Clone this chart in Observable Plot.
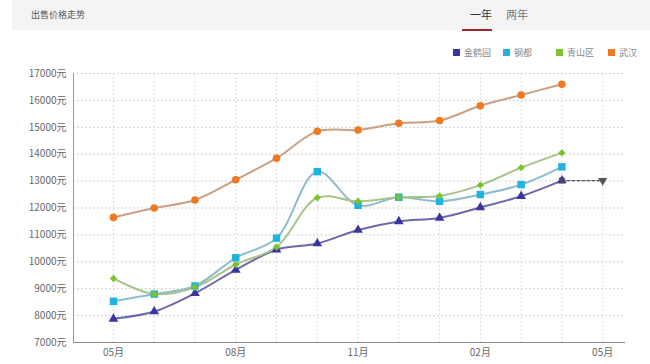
<!DOCTYPE html>
<html><head><meta charset="utf-8">
<script src="https://cdn.jsdelivr.net/npm/d3@7"></script>
<script src="https://cdn.jsdelivr.net/npm/@observablehq/plot@0.6"></script>
<style>
body{margin:0;width:650px;height:364px;background:#fff;font-family:"Noto Sans CJK SC","Noto Sans",sans-serif;position:relative;overflow:hidden}
#hdr{position:absolute;left:12px;top:0;width:638px;height:30px;background:#f4f4f4}
#title{position:absolute;left:19px;top:8px;font-size:9px;color:#555}
#y1{position:absolute;left:458px;top:6px;font-size:11px;color:#333}
#y2{position:absolute;left:494px;top:6px;font-size:11px;color:#777}
#ul{position:absolute;left:462px;top:29px;width:30px;height:2px;background:#a3242a}
#legend{position:absolute;top:46px;left:0;width:650px;height:14px;font-size:9px;color:#888}
.li{position:absolute;top:0;display:flex;align-items:center;gap:4px}
.sw{width:7px;height:7px;display:inline-block}
#chart{position:absolute;left:0;top:40px}
</style></head>
<body>
<div id="hdr"><span id="title">出售价格走势</span><span id="y1">一年</span><span id="y2">两年</span></div>
<div id="ul"></div>
<div id="legend"></div>
<div id="chart"></div>
<script>
const monthLabels = ["05月","06月","07月","08月","09月","10月","11月","12月","01月","02月","03月","04月","05月"];
const xTickIdx = [0,3,6,9,12];
const yTicks = [7000,8000,9000,10000,11000,12000,13000,14000,15000,16000,17000];
const seriesNames = ["金鹤园","钢都","青山区","武汉"];
const legendColors = ["#3b35a0","#1fb3df","#7cc42c","#f07a22"];
const lineColors = ["#6d69a8","#8dbccb","#a8c48a","#c9a084"];
const symbols = ["triangle","square","diamond2","circle"];
const jinheyuan = [7880,8150,8830,9700,10450,10680,11180,11500,11630,12020,12440,13020];
const gangdu = [8530,8800,9100,10150,10880,13350,12100,12400,12250,12500,12870,13530];
const qingshan = [9380,8800,9050,9900,10550,12380,12250,12400,12450,12850,13500,14050];
const wuhan = [11650,12000,12300,13050,13850,14850,14900,15150,15250,15800,16200,16600];
const forecast = [13020,13020];

const all = [jinheyuan,gangdu,qingshan,wuhan];
const rows = [];
all.forEach((arr,s)=>arr.forEach((v,i)=>rows.push({i,v,s})));
const fc = forecast.map((v,k)=>({i:11+k,v}));

const lg = document.getElementById("legend");
const lx = [453,503,556,608];
seriesNames.forEach((n,k)=>{
  const d=document.createElement("div");d.className="li";d.style.left=lx[k]+"px";
  d.innerHTML=`<span class="sw" style="background:${legendColors[k]}"></span><span>${n}</span>`;
  lg.appendChild(d);
});

const xmin=-0.98, xmax=12.56;
const marks = [
  Plot.gridY(yTicks,{stroke:"#c4c4c4",strokeOpacity:1,strokeDasharray:"1.5,2.5"}),
  Plot.gridX(d3.range(13),{stroke:"#d4d4d4",strokeOpacity:1,strokeDasharray:"1.5,2.5"}),
  Plot.ruleX([xmin],{stroke:"#999"}),
  Plot.ruleY([7000],{stroke:"#888"}),
  Plot.axisY(yTicks,{tickSize:0,tickPadding:7,tickFormat:d=>d+"元",fontSize:10,fill:"#666",textDecoration:"underline",label:null}),
  Plot.axisX(xTickIdx,{tickSize:0,tickPadding:6,tickFormat:i=>monthLabels[i],fontSize:10,fill:"#666",label:null}),
  Plot.line(fc,{x:"i",y:"v",stroke:"#555",strokeWidth:1.3,strokeDasharray:"3,2"}),
];
all.forEach((arr,s)=>{
  const d = rows.filter(r=>r.s===s);
  marks.push(Plot.line(d,{x:"i",y:"v",stroke:lineColors[s],strokeWidth:2,curve:"catmull-rom"}));
});
all.forEach((arr,s)=>{
  const d = rows.filter(r=>r.s===s);
  const r = s===1?4.2:(s===2?3.3:(s===0?3.6:3.8));
  marks.push(Plot.dot(d,{x:"i",y:"v",fill:legendColors[s],stroke:"none",r,symbol:symbols[s]}));
});
marks.push(Plot.dot([fc[0]],{x:"i",y:"v",fill:"#4a4470",symbol:"square",r:3.3}));
marks.push(Plot.dot([fc[1]],{x:"i",y:"v",fill:"#555",symbol:"triangle",r:3.4,rotate:180}));

const chart = Plot.plot({
  width:650,height:324,
  marginLeft:73,marginRight:25,marginTop:33,marginBottom:22,
  x:{type:"linear",domain:[xmin,xmax],label:null},
  y:{domain:[7000,17000],label:null},
  style:{fontFamily:'"Noto Sans CJK SC","Noto Sans",sans-serif',background:"transparent"},
  marks
});
document.getElementById("chart").appendChild(chart);
</script>
</body></html>
